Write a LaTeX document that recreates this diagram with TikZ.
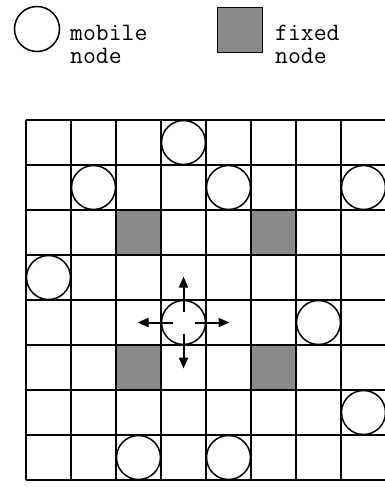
\documentclass[tikz,border=0pt]{standalone}
\usepackage{tikz}
\usetikzlibrary{shapes,arrows.meta,positioning}
\definecolor{fixgray}{RGB}{138,138,138}

\begin{document}
\begin{tikzpicture}[x=1pt,y=1pt,
  mobile/.style={draw,circle,fill=white,line width=1.5pt,minimum size=44pt,inner sep=0pt},
  fixed/.style={draw,rectangle,fill=fixgray,line width=1.8pt,minimum size=44pt,inner sep=0pt},
  legtext/.style={font=\ttfamily\fontsize{25}{23}\selectfont,align=left,inner sep=0pt,anchor=north west},
  move/.style={-{Triangle[length=11pt,width=9pt]},line width=2pt}]
\useasboundingbox (0,0) rectangle (385,-487);
% legend
\node[mobile,minimum size=45pt] (legm) at (37,-29) {};
\node[legtext] (legmt) at (70,-25) {mobile\\node};
\node[fixed,minimum size=45pt] (legf) at (240,-30) {};
\node[legtext] (legft) at (275,-25) {fixed\\node};
% grid
\foreach \i in {0,...,8} {
  \draw[line width=1.5pt] (26+45*\i,-120) -- (26+45*\i,-480);
  \draw[line width=1.5pt] (26,-120-45*\i) -- (386,-120-45*\i);
}
% fixed nodes
\node[fixed] (f1) at (138.5,-232.5) {};
\node[fixed] (f2) at (273.5,-232.5) {};
\node[fixed] (f3) at (138.5,-367.5) {};
\node[fixed] (f4) at (273.5,-367.5) {};
% mobile nodes
\node[mobile] (m1) at (183.5,-142.5) {};
\node[mobile] (m2) at (93.5,-187.5) {};
\node[mobile] (m3) at (228.5,-187.5) {};
\node[mobile] (m4) at (363.5,-187.5) {};
\node[mobile] (m5) at (48.5,-277.5) {};
\node[mobile] (m6) at (318.5,-322.5) {};
\node[mobile] (m7) at (363.5,-412.5) {};
\node[mobile] (m8) at (138.5,-457.5) {};
\node[mobile] (m9) at (228.5,-457.5) {};
\node[mobile] (c) at (183.5,-322.5) {};
% moves
\draw[move] (c.center) ++(0,11) -- ++(0,35);
\draw[move] (c.center) ++(0,-11) -- ++(0,-35);
\draw[move] (c.center) ++(-11,0) -- ++(-35,0);
\draw[move] (c.center) ++(11,0) -- ++(35,0);
\end{tikzpicture}
\end{document}
